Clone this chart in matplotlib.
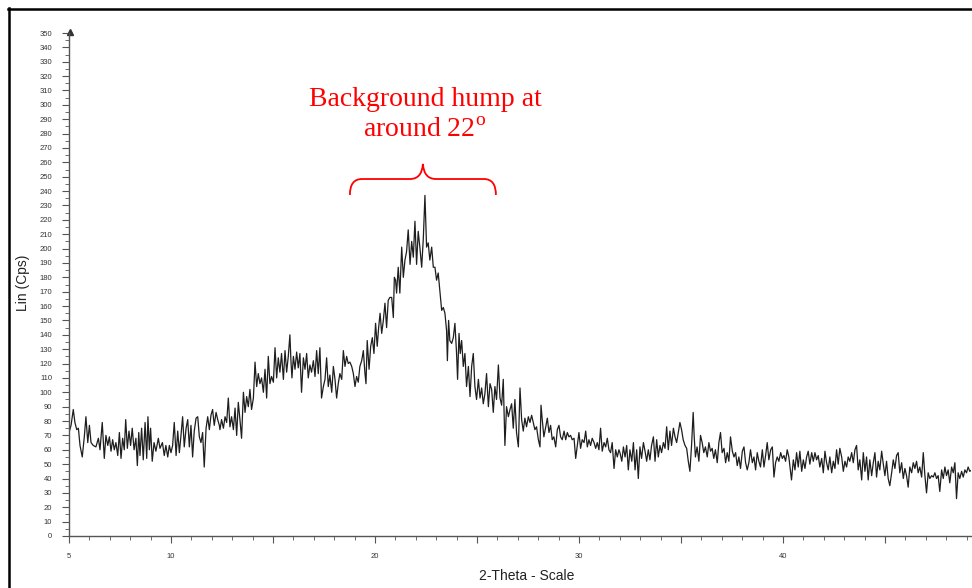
import matplotlib
matplotlib.use("Agg")
import matplotlib.pyplot as plt
from matplotlib.lines import Line2D
from matplotlib.path import Path
from matplotlib.patches import PathPatch
import numpy as np

# scan positions (deg 2-theta) and intensities (cps)
two_theta = [
    5.00, 5.10, 5.21, 5.29, 5.38, 5.46, 5.54, 5.65, 5.75, 5.83, 5.92, 6.00, 6.08, 6.19,
    6.32, 6.44, 6.52, 6.63, 6.73, 6.81, 6.90, 6.98, 7.06, 7.14, 7.22, 7.30, 7.39, 7.47,
    7.55, 7.63, 7.71, 7.78, 7.86, 7.94, 8.02, 8.10, 8.19, 8.28, 8.35, 8.42, 8.48, 8.56,
    8.64, 8.73, 8.81, 8.87, 8.94, 9.00, 9.08, 9.17, 9.26, 9.38, 9.46, 9.58, 9.67, 9.75,
    9.84, 9.92, 10.00, 10.08, 10.16, 10.25, 10.33, 10.41, 10.49, 10.57, 10.65, 10.74,
    10.82, 10.90, 10.98, 11.06, 11.14, 11.23, 11.31, 11.39, 11.47, 11.55, 11.63, 11.72,
    11.80, 11.88, 11.96, 12.04, 12.12, 12.21, 12.29, 12.37,
    12.40, 12.48, 12.57, 12.65, 12.73, 12.81, 12.89, 12.97, 13.06, 13.14, 13.22, 13.30,
    13.38, 13.46, 13.55, 13.63, 13.71, 13.79, 13.87, 13.95, 14.04, 14.12, 14.20, 14.28,
    14.36, 14.44, 14.53, 14.61, 14.69, 14.77, 14.85, 14.93, 15.02, 15.10, 15.18, 15.26,
    15.34, 15.42, 15.51, 15.59, 15.67, 15.75, 15.83, 15.88, 15.93, 16.00, 16.08, 16.16,
    16.24, 16.32, 16.40, 16.49, 16.57, 16.65, 16.73, 16.81, 16.89, 16.98, 17.06, 17.14,
    17.22, 17.30, 17.38, 17.47, 17.55, 17.63, 17.71, 17.79,
    17.88, 17.96, 18.04, 18.12, 18.20, 18.28, 18.37, 18.45, 18.53, 18.61, 18.69, 18.77,
    18.86, 18.94, 19.02, 19.10, 19.18, 19.26, 19.35, 19.43, 19.51, 19.56, 19.62, 19.71,
    19.79, 19.87, 19.95, 20.03, 20.11, 20.18, 20.25, 20.33, 20.41, 20.49, 20.57, 20.65,
    20.73, 20.82, 20.90, 20.95, 21.01, 21.06, 21.14, 21.22, 21.31, 21.39, 21.47, 21.55,
    21.63, 21.72, 21.80, 21.88, 21.96, 22.04, 22.12, 22.20, 22.29, 22.37, 22.45, 22.53,
    22.61, 22.69, 22.78, 22.86, 22.94, 23.02, 23.10, 23.18, 23.27, 23.35, 23.43, 23.51,
    23.55, 23.61, 23.67, 23.76, 23.84, 23.92, 24.00, 24.05, 24.12, 24.18, 24.25, 24.33,
    24.41, 24.49, 24.58, 24.66, 24.74, 24.82, 24.90, 24.98, 25.07,
    25.15, 25.23, 25.31, 25.39, 25.47, 25.56, 25.64, 25.72, 25.80, 25.88, 25.96, 26.05,
    26.13, 26.21, 26.29, 26.37, 26.45, 26.54, 26.62, 26.70, 26.78, 26.86, 26.94, 27.03,
    27.11, 27.19, 27.27, 27.35, 27.43, 27.52, 27.60, 27.68, 27.76, 27.84, 27.92, 28.01,
    28.09, 28.14, 28.20, 28.28, 28.37, 28.45, 28.53, 28.61, 28.69, 28.77, 28.86, 28.94,
    29.02, 29.10, 29.18, 29.27, 29.35, 29.43, 29.51, 29.59, 29.67, 29.76, 29.84, 29.92,
    30.00, 30.08, 30.16, 30.25, 30.33, 30.41, 30.49, 30.57, 30.65, 30.74, 30.82, 30.90,
    30.98, 31.06, 31.14, 31.23, 31.31, 31.39, 31.47, 31.55, 31.63, 31.72, 31.80, 31.88,
    31.96,
    32.01, 32.10, 32.18, 32.26, 32.34, 32.42, 32.50, 32.59, 32.67, 32.75, 32.83, 32.91,
    32.99, 33.07, 33.16, 33.24, 33.32, 33.40, 33.48, 33.56, 33.65, 33.73, 33.81, 33.89,
    33.97, 34.05, 34.14, 34.22, 34.30, 34.38, 34.46, 34.54, 34.63, 34.71, 34.79, 34.87,
    34.95, 35.03, 35.11, 35.20, 35.28, 35.36, 35.44, 35.52, 35.60, 35.65, 35.71, 35.79,
    35.88, 35.96, 36.04, 36.12, 36.20, 36.29, 36.37, 36.45, 36.53, 36.61, 36.69, 36.78,
    36.86, 36.94, 37.02, 37.11, 37.19, 37.27, 37.35, 37.43, 37.52, 37.60, 37.68, 37.76,
    37.84, 37.92, 38.01, 38.09, 38.17, 38.25, 38.33, 38.41, 38.50, 38.58, 38.66, 38.74,
    38.82, 38.90, 38.99, 39.07, 39.15, 39.23, 39.31, 39.40, 39.48, 39.56, 39.64, 39.72,
    39.80, 39.89, 39.97, 40.05, 40.13, 40.21, 40.29,
    40.42, 40.51, 40.59, 40.67, 40.75, 40.83, 40.92, 41.00, 41.08, 41.16, 41.24, 41.32,
    41.41, 41.49, 41.57, 41.65, 41.73, 41.81, 41.90, 41.98, 42.06, 42.14, 42.22, 42.30,
    42.39, 42.47, 42.55, 42.63, 42.71, 42.79, 42.88, 42.96, 43.04, 43.12, 43.20, 43.28,
    43.37, 43.45, 43.53, 43.61, 43.69, 43.77, 43.86, 43.94, 44.02, 44.10, 44.18, 44.26,
    44.35, 44.43, 44.51, 44.59, 44.67, 44.75, 44.84, 44.92, 45.00, 45.08, 45.16, 45.24,
    45.33, 45.41, 45.49, 45.57, 45.65, 45.73, 45.82, 45.90, 45.98, 46.06, 46.14, 46.22,
    46.31, 46.39, 46.47, 46.55, 46.63, 46.71, 46.80, 46.88, 46.96, 47.04, 47.12, 47.20,
    47.29, 47.37, 47.45, 47.53, 47.61, 47.69, 47.78, 47.86, 47.94, 48.02, 48.10, 48.18,
    48.27, 48.35, 48.43, 48.51, 48.59, 48.67, 48.76, 48.84, 48.92, 49.00, 49.08, 49.16,
    49.26,
]
counts = [
    72, 77, 88, 79, 74, 75, 63, 55, 69, 83, 65, 77, 65, 63,
    62, 68, 60, 79, 54, 70, 63, 69, 59, 67, 60, 65, 56, 72,
    54, 68, 60, 81, 61, 73, 63, 75, 60, 68, 49, 72, 56, 75,
    53, 79, 54, 83, 60, 75, 52, 65, 59, 68, 61, 65, 56, 63,
    55, 63, 58, 63, 79, 56, 73, 58, 70, 83, 62, 75,
    81, 62, 77, 55, 73, 82, 83, 69, 65, 72, 48, 75,
    83, 74, 84, 88, 77, 86, 81, 77,
    74, 81, 75, 83, 79, 96, 76, 83, 74, 89, 70, 93,
    81, 68, 100, 86, 97, 90, 102, 88, 96, 121, 104, 113,
    106, 110, 100, 116, 96, 125, 106, 111, 107, 131, 110, 124,
    114, 127, 109, 129, 114, 125, 140, 122, 110, 125, 116, 128,
    117, 127, 100, 124, 116, 127, 110, 119, 114, 122, 111, 129,
    113, 131, 96, 104, 109, 124, 104, 112,
    100, 118, 109, 96, 106, 113, 109, 129, 118, 125, 120, 121,
    118, 113, 104, 111, 107, 118, 122, 129, 113, 106, 136, 116,
    132, 138, 127, 148, 132, 145, 155, 141, 150, 162, 145, 164,
    166, 166, 152, 180, 178, 169, 187, 169, 201, 180, 192, 198,
    213, 189, 205, 194, 219, 189, 212, 201, 187, 207, 237, 201,
    204, 192, 201, 187, 187, 178, 183, 171, 157, 159, 155, 143,
    122, 150, 136, 134, 138, 148, 127, 109, 141, 127, 136, 118,
    127, 104, 118, 97, 118, 127, 104, 95, 109,
    96, 103, 92, 99, 113, 90, 106, 102, 86, 104, 95, 119,
    96, 91, 109, 63, 90, 83, 88, 92, 75, 95, 72, 62,
    103, 81, 73, 82, 76, 83, 79, 84, 79, 74, 76, 67,
    62, 91, 81, 69, 76, 82, 72, 77, 67, 69, 62, 74,
    77, 69, 67, 73, 67, 72, 69, 70, 67, 68, 54, 63,
    72, 61, 67, 65, 73, 62, 67, 63, 68, 65, 61, 65,
    60, 75, 59, 65, 62, 68, 60, 58, 65, 47, 60, 55,
    60,
    58, 52, 62, 55, 63, 46, 60, 52, 65, 46, 60, 40,
    62, 54, 65, 59, 52, 60, 53, 63, 69, 52, 67, 55,
    63, 58, 65, 61, 76, 60, 73, 63, 75, 69, 65, 72,
    79, 74, 67, 63, 61, 52, 45, 63, 86, 69, 55, 62,
    52, 70, 65, 58, 62, 55, 65, 59, 61, 54, 60, 51,
    65, 72, 58, 61, 51, 58, 52, 69, 59, 55, 58, 49,
    55, 47, 59, 62, 51, 46, 51, 60, 51, 55, 46, 58,
    52, 48, 60, 48, 56, 65, 53, 60, 62, 41, 51, 55,
    52, 58, 54, 56, 52, 60, 55,
    39, 53, 46, 58, 48, 59, 45, 53, 47, 55, 59, 50,
    58, 52, 58, 53, 56, 48, 54, 44, 59, 51, 46, 55,
    44, 52, 47, 60, 50, 61, 55, 45, 52, 48, 55, 52,
    58, 51, 60, 63, 46, 53, 39, 58, 45, 55, 39, 53,
    42, 51, 58, 41, 52, 46, 59, 50, 42, 52, 40, 35,
    44, 53, 47, 56, 58, 44, 51, 40, 47, 42, 34, 48,
    44, 51, 47, 52, 44, 48, 41, 58, 42, 30, 44, 40,
    42, 41, 44, 40, 42, 31, 46, 40, 48, 42, 46, 37,
    48, 44, 51, 26, 44, 40, 45, 41, 46, 44, 48, 45,
    46,
]

x_major = [5, 10, 15, 20, 25, 30, 35, 40, 45]
x_labels = ["5", "10", "", "20", "", "30", "", "40", ""]

plt.rcParams['font.family'] = ['Liberation Sans', 'DejaVu Sans']
plt.rcParams['mathtext.fontset'] = 'custom'
plt.rcParams['mathtext.rm'] = 'Liberation Serif'

fig = plt.figure(figsize=(9.72, 5.88), dpi=100)
ax = fig.add_axes([69 / 972, 1 - 536 / 588, (971 - 69) / 972, (536 - 33) / 588])

ax.plot(two_theta, counts, color='#1e1e1e', lw=0.9)

ax.set_xlim(5, 49.22)
ax.set_ylim(0, 350)

for s in ['top', 'right']:
    ax.spines[s].set_visible(False)
for s in ['left', 'bottom']:
    ax.spines[s].set_color('#555555')
    ax.spines[s].set_linewidth(1.0)

ax.set_xticks(x_major)
ax.set_xticklabels(x_labels)
ax.set_xticks(np.arange(5, 50, 1), minor=True)
ax.set_yticks(np.arange(0, 351, 10))
ax.set_yticks(np.arange(5, 350, 10), minor=True)

ax.tick_params(axis='both', which='major', direction='out', length=5, width=0.8,
               color='#555555', labelsize=5.5, labelcolor='#333333', pad=7)
ax.tick_params(axis='both', which='minor', direction='out', length=3, width=0.6,
               color='#555555')

# arrow head on top of the y axis
ax.plot([5.05], [351], marker='^', color='#333333', markersize=4, clip_on=False)

ax.set_xlabel('2-Theta - Scale', fontsize=10, color='#222222')
ax.xaxis.set_label_coords((527 - 69) / (971 - 69), -(569 - 536) / (536 - 33))
ax.set_ylabel('Lin (Cps)', fontsize=10, color='#222222')
ax.yaxis.set_label_coords(-(69 - 30) / (971 - 69), (536 - 283) / (536 - 33))

# annotation over the amorphous hump
ax.text(22.45, 299, 'Background hump at', color='red', fontsize=20,
        family='Liberation Serif', ha='center', va='baseline')
ax.text(22.45, 277.5, 'around 22$^{\\mathrm{o}}$', color='red', fontsize=20,
        family='Liberation Serif', ha='center', va='baseline')

verts = [
    (18.77, 237.3), (18.77, 248.4), (19.36, 248.4),
    (21.72, 248.4),
    (22.30, 248.4), (22.35, 258.9),
    (22.40, 248.4), (22.99, 248.4),
    (25.34, 248.4),
    (25.93, 248.4), (25.93, 237.3),
]
codes = [
    Path.MOVETO, Path.CURVE3, Path.CURVE3,
    Path.LINETO,
    Path.CURVE3, Path.CURVE3,
    Path.CURVE3, Path.CURVE3,
    Path.LINETO,
    Path.CURVE3, Path.CURVE3,
]
ax.add_patch(PathPatch(Path(verts, codes), fill=False, edgecolor='red', lw=1.3,
                       clip_on=False))

# outer frame
fig.add_artist(Line2D([8 / 972, 1.0], [1 - 9 / 588, 1 - 9 / 588], color='black', lw=1.8))
fig.add_artist(Line2D([9 / 972, 9 / 972], [0.0, 1 - 8 / 588], color='black', lw=1.8))

fig.savefig('out.png', dpi=100)
